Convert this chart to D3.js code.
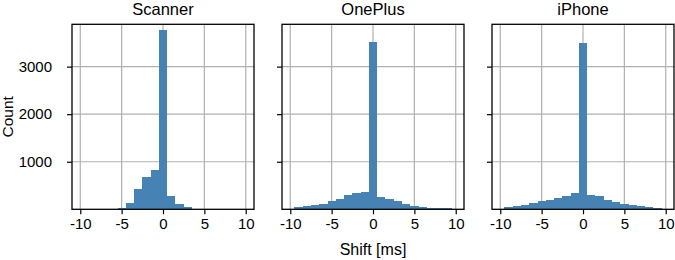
<!DOCTYPE html>
<html>
<head>
<meta charset="utf-8">
<script src="https://cdn.jsdelivr.net/npm/d3@7"></script>
<style>
  body { margin: 0; background: #fff; }
  svg { display: block; font-family: "Liberation Sans", Arial, sans-serif; }
</style>
</head>
<body>
<svg id="chart" width="675" height="260"></svg>
<script>
// bin centres in ms (bins are 1 ms wide)
const shiftBins = [-10, -9, -8, -7, -6, -5, -4, -3, -2, -1, 0, 1, 2, 3, 4, 5, 6, 7, 8, 9, 10]

const devices = ['Scanner', 'OnePlus', 'iPhone']

const scannerCounts = [0, 0, 0, 0, 0, 22, 130, 430, 680, 835, 3760, 278, 110, 55, 12, 0, 0, 0, 0, 0, 0]
const oneplusCounts = [12, 45, 60, 90, 115, 168, 215, 305, 340, 355, 3520, 255, 212, 165, 120, 78, 52, 37, 25, 18, 8]
const iphoneCounts = [10, 38, 65, 95, 128, 170, 205, 238, 272, 345, 3490, 298, 290, 205, 158, 112, 88, 72, 50, 30, 10]

const xTicks = [-10, -5, 0, 5, 10]
const yTicks = [1000, 2000, 3000]

const series = [scannerCounts, oneplusCounts, iphoneCounts]

const svg = d3.select('#chart')

const panelLefts = [72, 282, 492]
const panelWidth = 182
const plotTop = 24.3
const plotBottom = 209.3

const y = d3.scaleLinear()
  .domain([0, 3890])
  .range([plotBottom, plotTop])

devices.forEach(function (name, i) {
  const x = d3.scaleLinear()
    .domain([-11, 11])
    .range([panelLefts[i], panelLefts[i] + panelWidth])

  const g = svg.append('g')

  // grid behind the bars
  g.selectAll('.vgrid')
    .data(xTicks)
    .enter().append('line')
    .attr('x1', d => x(d)).attr('x2', d => x(d))
    .attr('y1', plotTop).attr('y2', plotBottom)
    .attr('stroke', '#b0b0b0')
    .attr('stroke-width', 1.2)

  g.selectAll('.hgrid')
    .data(yTicks)
    .enter().append('line')
    .attr('x1', x.range()[0]).attr('x2', x.range()[1])
    .attr('y1', d => y(d)).attr('y2', d => y(d))
    .attr('stroke', '#b0b0b0')
    .attr('stroke-width', 1.2)

  g.selectAll('.bar')
    .data(series[i])
    .enter().append('rect')
    .attr('x', (d, j) => x(shiftBins[j] - 0.5))
    .attr('width', (d, j) => x(shiftBins[j] + 0.5) - x(shiftBins[j] - 0.5))
    .attr('y', d => y(d))
    .attr('height', d => plotBottom - y(d))
    .attr('fill', 'steelblue')
    .attr('shape-rendering', 'crispEdges')

  const xAxis = g.append('g')
    .attr('transform', `translate(0,${plotBottom})`)
    .call(d3.axisBottom(x).tickValues(xTicks).tickSize(5).tickPadding(4)
      .tickFormat(d => String(d)))
  xAxis.select('.domain').remove()
  xAxis.selectAll('text').attr('font-size', 15).attr('font-family', null).attr('fill', '#000')
  xAxis.selectAll('line').attr('stroke', '#000').attr('stroke-width', 1.2)

  const yAxis = g.append('g')
    .attr('transform', `translate(${panelLefts[i]},0)`)
    .call(d3.axisLeft(y).tickValues(yTicks).tickSize(5).tickPadding(15))
  yAxis.select('.domain').remove()
  yAxis.selectAll('line').attr('stroke', '#000').attr('stroke-width', 1.2)
  if (i === 0) {
    yAxis.selectAll('text').attr('font-size', 15).attr('font-family', null).attr('fill', '#000')
      .text(d => String(d))
  } else {
    yAxis.selectAll('text').remove()
  }

  // frame
  g.append('rect')
    .attr('x', panelLefts[i]).attr('y', plotTop)
    .attr('width', panelWidth).attr('height', plotBottom - plotTop)
    .attr('fill', 'none')
    .attr('stroke', '#000')
    .attr('stroke-width', 1.3)

  g.append('text')
    .attr('x', panelLefts[i] + panelWidth / 2)
    .attr('y', 15)
    .attr('text-anchor', 'middle')
    .attr('font-size', 16.5)
    .text(name)
})

svg.append('text')
  .attr('x', panelLefts[1] + panelWidth / 2)
  .attr('y', 255)
  .attr('text-anchor', 'middle')
  .attr('font-size', 16)
  .text('Shift [ms]')

svg.append('text')
  .attr('transform', `translate(13,${(plotTop + plotBottom) / 2}) rotate(-90)`)
  .attr('text-anchor', 'middle')
  .attr('font-size', 15.5)
  .text('Count')
</script>
</body>
</html>
